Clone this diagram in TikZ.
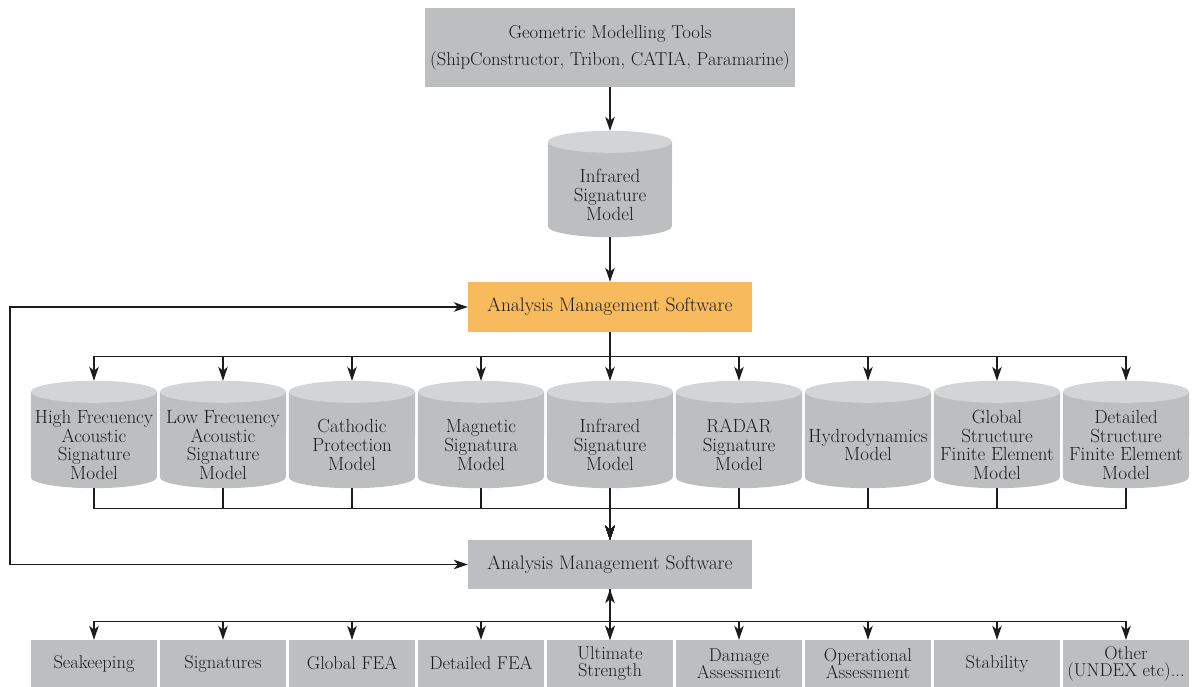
\documentclass[tikz,border=0pt]{standalone}
\usepackage{fontspec}
\usetikzlibrary{arrows.meta,calc}
\definecolor{boxgray}{RGB}{188,190,192}
\definecolor{capgray}{RGB}{210,212,214}
\definecolor{amsorange}{RGB}{247,187,94}
\definecolor{ink}{RGB}{30,27,28}
\newcommand\cylshape[2]{%
  \fill[boxgray] ($(#1.north west)+(0,-11)$) -- ($(#1.south west)+(0,11)$)
    arc[start angle=180,end angle=360,x radius=#2,y radius=11]
    -- ($(#1.north east)+(0,-11)$) -- cycle;
  \fill[capgray] ($(#1.north)+(0,-11)$) ellipse[x radius=#2, y radius=11];
}
\begin{document}
\begin{tikzpicture}[x=1pt,y=1pt,
  every node/.style={text=ink},
  graybox/.style={fill=boxgray, inner sep=0pt, align=center},
  cylnode/.style={inner sep=0pt, minimum width=126pt, minimum height=107pt},
  cyltext/.style={inner sep=0pt, align=center, font=\fontsize{19}{18.8}\selectfont},
  lowbox/.style={graybox, minimum width=126pt, minimum height=47pt, font=\fontsize{18.5}{17}\selectfont},
  conn/.style={draw=ink, line width=1.2pt},
  tip/.tip={Stealth[length=14pt,width=9.5pt,inset=4pt]},
  arr/.style={conn, -tip},
  arrboth/.style={conn, tip-tip}]
\useasboundingbox (0,0) rectangle (1192,-687);

% top tool box
\node[graybox, minimum width=370pt, minimum height=79pt, font=\fontsize{18.7}{27}\selectfont]
  (geo) at (610,-47.5) {Geometric Modelling Tools\\(ShipConstructor, Tribon, CATIA, Paramarine)};

% top cylinder
\node[cylnode, minimum width=124pt, minimum height=106pt] (topcyl) at (610,-184) {};
\cylshape{topcyl}{62}
\node[cyltext] (topcylt) at ($(topcyl.center)+(0,-11)$) {Infrared\\Signature\\Model};

% analysis management boxes
\node[fill=amsorange, inner sep=0pt, minimum width=284pt, minimum height=50pt,
  font=\fontsize{19.5}{19.5}\selectfont] (ams1) at (610,-307) {Analysis Management Software};
\node[graybox, minimum width=284pt, minimum height=49pt,
  font=\fontsize{19.5}{19.5}\selectfont] (ams2) at (610,-564.5) {Analysis Management Software};

\draw[arr] (geo.south) -- (topcyl.north);
\draw[arr] (topcyl.south) -- (ams1.north);

% feedback loop
\coordinate (fbtop) at (10,-307);
\coordinate (fbbot) at (10,-564.5);
\draw[arrboth] (ams1.west) -- (fbtop) -- (fbbot) -- (ams2.west);

% model cylinders
\foreach \i/\t in {
  1/{High Frecuency\\Acoustic\\Signature\\Model},
  2/{Low Frecuency\\Acoustic\\Signature\\Model},
  3/{Cathodic\\Protection\\Model},
  4/{Magnetic\\Signatura\\Model},
  5/{Infrared\\Signature\\Model},
  6/{RADAR\\Signature\\Model},
  7/{Hydrodynamics\\Model},
  8/{Global\\Structure\\Finite Element\\Model},
  9/{Detailed\\Structure\\Finite Element\\Model}}{
  \pgfmathsetmacro\xx{610+(\i-5)*129}
  \node[cylnode] (c\i) at (\xx,-434.5) {};
  \cylshape{c\i}{63}
  \node[cyltext] (ct\i) at ($(c\i.center)+(0,-10.5)$) {\t};
  \draw[arr] (ams1.south) |- ($(c\i.north)+(0,24)$) -- (c\i.north);
  \draw[arr] (c\i.south) -- ++(0,-20) -| (ams2.north);
}

% analysis boxes
\foreach \i/\t in {
  1/{Seakeeping},
  2/{Signatures},
  3/{Global FEA},
  4/{Detailed FEA},
  5/{Ultimate\\Strength},
  6/{Damage\\Assessment},
  7/{Operational\\Assessment},
  8/{Stability},
  9/{Other\\(UNDEX etc)...}}{
  \pgfmathsetmacro\xx{610+(\i-5)*129}
  \node[lowbox] (b\i) at (\xx,-663.5) {\t};
  \draw[arr] (ams2.south) |- ($(b\i.north)+(0,18)$) -- (b\i.north);
}
\draw[arrboth] (ams2.south) -- (b5.north);
\end{tikzpicture}
\end{document}
